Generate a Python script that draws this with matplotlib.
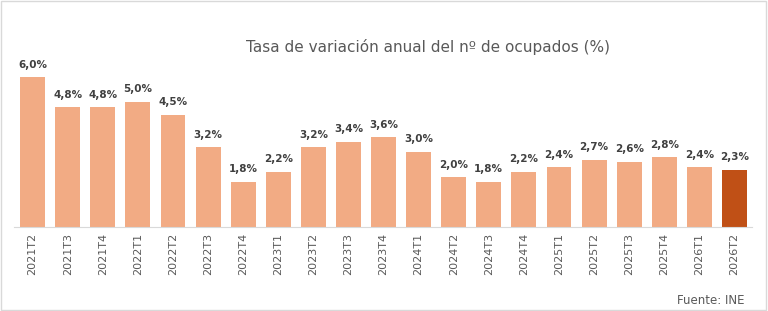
import matplotlib.pyplot as plt
from matplotlib.patches import Rectangle

periods = ["2021T2", "2021T3", "2021T4", "2022T1", "2022T2", "2022T3", "2022T4",
           "2023T1", "2023T2", "2023T3", "2023T4", "2024T1", "2024T2", "2024T3",
           "2024T4", "2025T1", "2025T2", "2025T3", "2025T4", "2026T1", "2026T2"]
values = [6.0, 4.8, 4.8, 5.0, 4.5, 3.2, 1.8, 2.2, 3.2, 3.4, 3.6, 3.0, 2.0, 1.8,
          2.2, 2.4, 2.7, 2.6, 2.8, 2.4, 2.3]

light = "#F2AB84"
dark = "#C05016"
colors = [light] * (len(values) - 1) + [dark]

fig = plt.figure(figsize=(7.68, 3.11), dpi=100)
ax = fig.add_axes([14 / 768, 84 / 311, 738 / 768, 187.5 / 311])

x = range(len(values))
bars = ax.bar(x, values, width=0.71, color=colors)
for xi, v in zip(x, values):
    ax.text(xi, v + 0.3, f"{v:.1f}%".replace(".", ","), ha="center", va="bottom",
            fontsize=7.5, fontweight="bold", color="#404040")

ax.set_xlim(-0.53, 20.5)
ax.set_ylim(0, 7.5)
ax.set_xticks(list(x))
ax.set_xticklabels(periods, rotation=90, fontsize=8, color="#595959")
ax.tick_params(axis="x", length=0, pad=4)
ax.set_yticks([])
for s in ["top", "right", "left"]:
    ax.spines[s].set_visible(False)
ax.spines["bottom"].set_color("#D9D9D9")

fig.text(0.557, 0.848, "Tasa de variación anual del nº de ocupados (%)",
         ha="center", va="center", fontsize=11, color="#595959")
fig.text(0.97, 0.035, "Fuente: INE", ha="right", va="center", fontsize=8.5, color="#595959")

fig.patches.append(Rectangle((0.001, 0.002), 0.997, 0.995, transform=fig.transFigure,
                             fill=False, edgecolor="#D9D9D9", linewidth=1))

fig.savefig("out.png", dpi=100)
